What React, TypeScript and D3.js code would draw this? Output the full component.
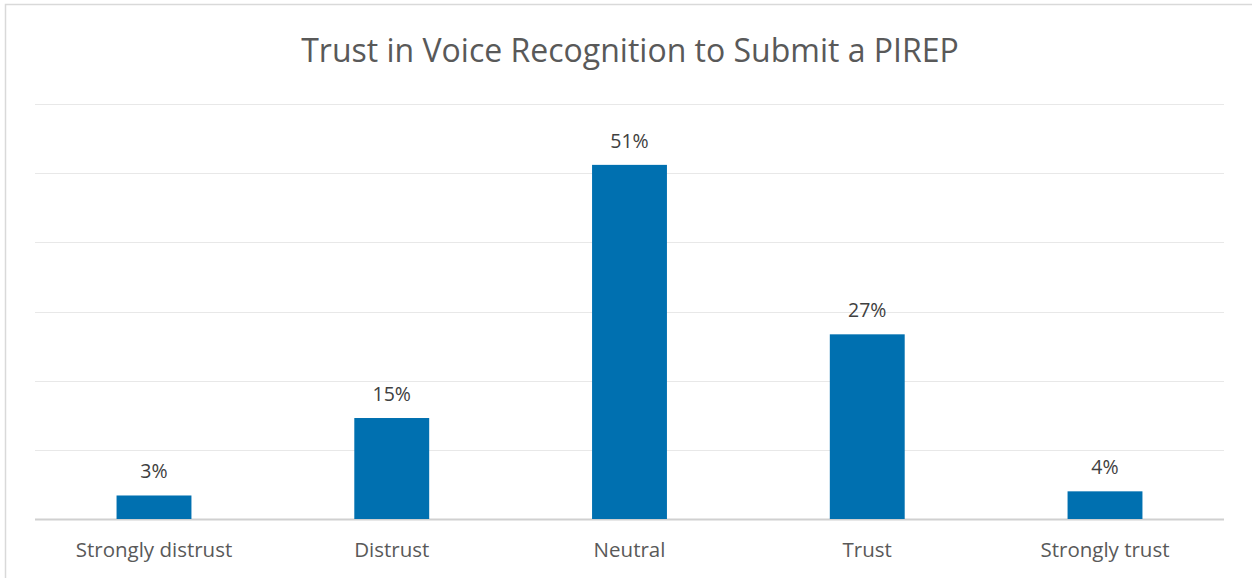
import React from "react";
import * as d3 from "d3";

const title = "Trust in Voice Recognition to Submit a PIREP";
const categories = ["Strongly distrust", "Distrust", "Neutral", "Trust", "Strongly trust"];
const values = [3.4, 14.6, 51.2, 26.7, 4.0];
const labels = ["3%", "15%", "51%", "27%", "4%"];
const yTicks = [0, 10, 20, 30, 40, 50, 60];

const W = 1252;
const H = 578;
const plot = { left: 35, right: 1224, top: 104, bottom: 519 };

export default function App() {
  const x = d3.scaleBand<string>().domain(categories).range([plot.left, plot.right]).paddingInner(0.685).paddingOuter(0.343);
  const y = d3.scaleLinear().domain([0, 60]).range([plot.bottom, plot.top]);
  const font = "'Open Sans', 'Noto Sans', sans-serif";
  return (
    <svg width={W} height={H} style={{ position: "absolute", left: 0, top: 0, display: "block" }}>
      <rect x={0} y={0} width={W} height={H} fill="#fff" />
      <rect x={5.5} y={4.5} width={W + 10} height={H + 10} fill="#fff" stroke="#d9d9d9" strokeWidth={1.5} />
      <text x={630} y={62} textAnchor="middle" fontFamily={font} fontSize={32} fill="#595959">
        {title}
      </text>
      {yTicks.map((t) => (
        <line key={t} x1={plot.left} x2={plot.right} y1={Math.round(y(t)) + 0.5} y2={Math.round(y(t)) + 0.5}
          stroke={t === 0 ? "#d0d0d0" : "#e8e8e8"} strokeWidth={t === 0 ? 2 : 1} />
      ))}
      {categories.map((c, i) => (
        <g key={c}>
          <rect x={x(c)} y={y(values[i])} width={x.bandwidth()} height={y(0) - y(values[i])} fill="#0070b0" />
          <text x={(x(c) as number) + x.bandwidth() / 2} y={y(values[i]) - 17} textAnchor="middle"
            fontFamily={font} fontSize={19.5} fill="#404040">{labels[i]}</text>
          <text x={(x(c) as number) + x.bandwidth() / 2} y={557} textAnchor="middle"
            fontFamily={font} fontSize={20.5} fill="#595959">{c}</text>
        </g>
      ))}
    </svg>
  );
}
